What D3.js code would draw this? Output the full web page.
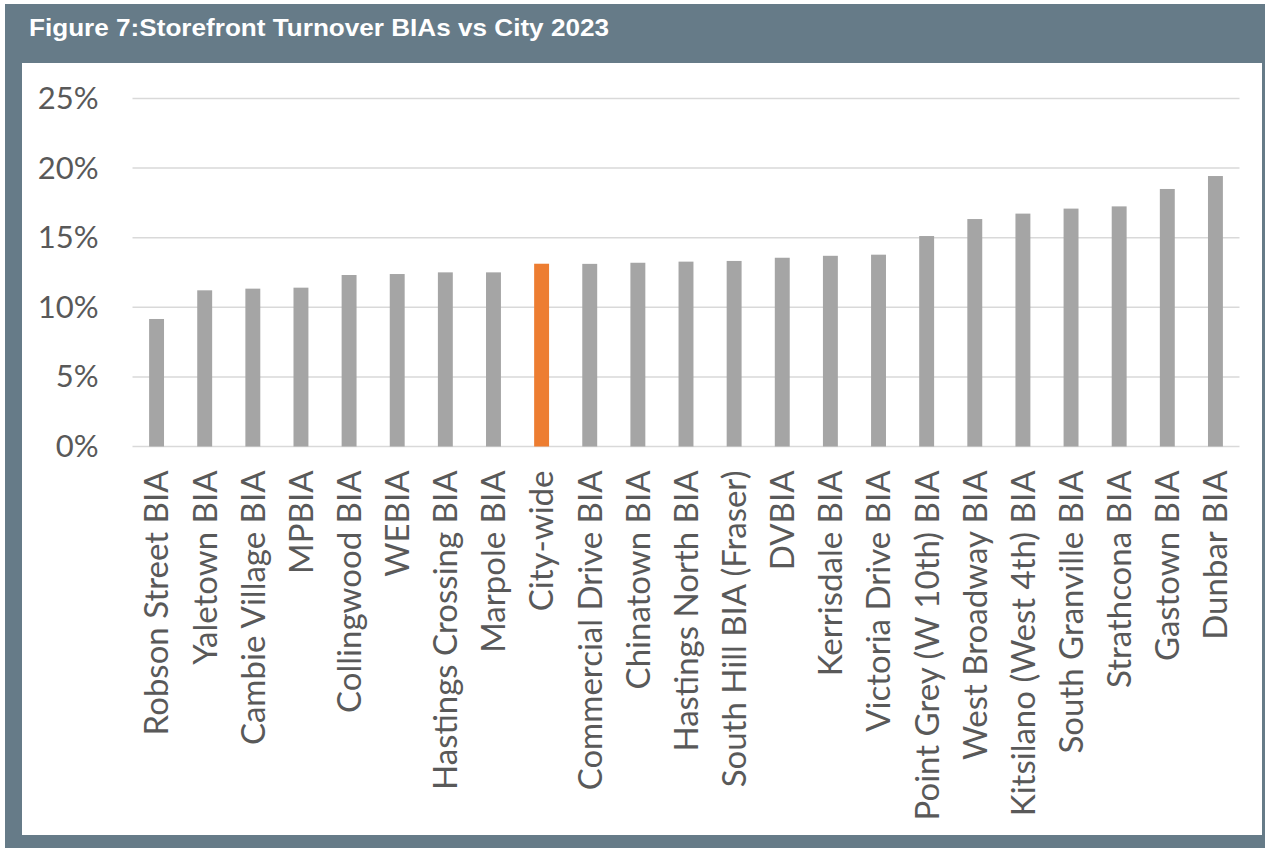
<!DOCTYPE html>
<html>
<head>
<meta charset="utf-8">
<script src="https://cdn.jsdelivr.net/npm/d3@7"></script>
<style>
  html, body { margin: 0; padding: 0; background: #ffffff; }
  svg { display: block; }
</style>
</head>
<body>
<div id="chart"></div>
<script>
// Storefront turnover per BIA vs city-wide, 2023
const categories = [
  "Robson Street BIA", "Yaletown BIA", "Cambie Village BIA", "MPBIA",
  "Collingwood BIA", "WEBIA", "Hastings Crossing BIA", "Marpole BIA",
  "City-wide", "Commercial Drive BIA", "Chinatown BIA", "Hastings North BIA",
  "South Hill BIA (Fraser)", "DVBIA", "Kerrisdale BIA", "Victoria Drive BIA",
  "Point Grey (W 10th) BIA", "West Broadway BIA", "Kitsilano (West 4th) BIA",
  "South Granville BIA", "Strathcona BIA", "Gastown BIA", "Dunbar BIA"
];
const turnover = [
  0.0916, 0.1122, 0.1134, 0.1141,
  0.1232, 0.1239, 0.1251, 0.1251,
  0.1313, 0.1312, 0.1320, 0.1328,
  0.1333, 0.1356, 0.1370, 0.1378,
  0.1512, 0.1634, 0.1673, 0.1709,
  0.1725, 0.1850, 0.1943
];
const highlight = "City-wide";
const yTicks = [0, 0.05, 0.10, 0.15, 0.20, 0.25];
const title = "Figure 7:Storefront Turnover BIAs vs City 2023";

const W = 1265, H = 848;
const frameColor = "#667b88";
const labelFont = "Lato, 'Open Sans', sans-serif";
const plot = { l: 132.5, r: 1239.5, t: 98.5, b: 446.5 };

const svg = d3.select("#chart").append("svg")
  .attr("width", W)
  .attr("height", H);

// frame + title bar
svg.append("rect")
  .attr("x", 5).attr("y", 4)
  .attr("width", W - 5).attr("height", H - 4)
  .attr("fill", frameColor);
svg.append("rect")
  .attr("x", 22).attr("y", 63)
  .attr("width", 1262 - 22).attr("height", 835 - 63)
  .attr("fill", "#ffffff");

svg.append("text")
  .attr("x", 29).attr("y", 36)
  .attr("fill", "#ffffff")
  .attr("font-family", "'Liberation Sans', Arial, sans-serif")
  .attr("font-weight", "bold")
  .attr("font-size", 24)
  .attr("textLength", 580)
  .attr("lengthAdjust", "spacingAndGlyphs")
  .text(title);

const x = d3.scaleBand()
  .domain(categories)
  .range([plot.l, plot.r])
  .paddingInner(0.69)
  .paddingOuter(0.345);

const y = d3.scaleLinear()
  .domain([0, 0.25])
  .range([plot.b, plot.t]);

// gridlines
svg.append("g")
  .selectAll("line")
  .data(yTicks)
  .join("line")
  .attr("x1", plot.l).attr("x2", plot.r)
  .attr("y1", d => y(d)).attr("y2", d => y(d))
  .attr("stroke", "#d9d9d9")
  .attr("stroke-width", 1.5);

// y axis labels
const yAxis = svg.append("g")
  .attr("transform", `translate(${plot.l},0)`)
  .call(d3.axisLeft(y).tickValues(yTicks).tickFormat(d3.format(".0%")).tickSize(0).tickPadding(34));
yAxis.select(".domain").remove();
yAxis.selectAll("text")
  .attr("fill", "#595959")
  .attr("font-family", labelFont)
  .attr("font-size", 31);

// bars
svg.append("g")
  .selectAll("rect")
  .data(categories)
  .join("rect")
  .attr("x", d => x(d))
  .attr("width", x.bandwidth())
  .attr("y", (d, i) => y(turnover[i]))
  .attr("height", (d, i) => y(0) - y(turnover[i]))
  .attr("fill", d => d === highlight ? "#ed7d31" : "#a5a5a5");

// category labels, rotated
svg.append("g")
  .selectAll("text")
  .data(categories)
  .join("text")
  .attr("transform", d => `translate(${x(d) + x.bandwidth() / 2},${plot.b + 24}) rotate(-90)`)
  .attr("text-anchor", "end")
  .attr("dy", "0.36em")
  .attr("fill", "#595959")
  .attr("font-family", labelFont)
  .attr("font-size", 33)
  .text(d => d);
</script>
</body>
</html>
